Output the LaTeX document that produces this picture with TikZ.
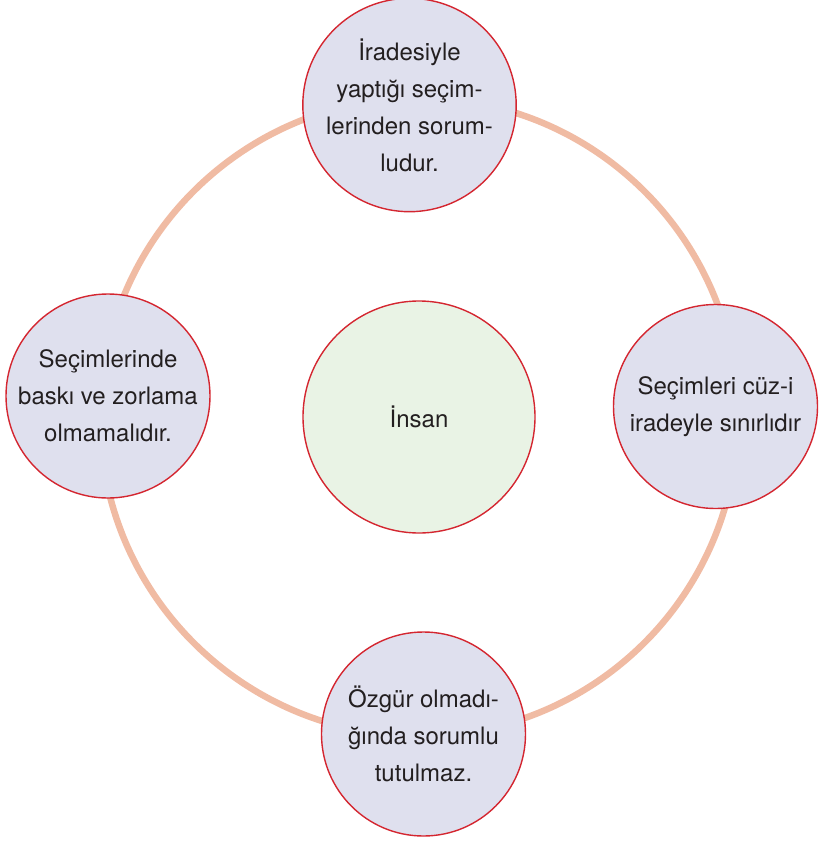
\documentclass[tikz,border=0pt]{standalone}
\usepackage{fontspec}
\setmainfont{TeX Gyre Heros}
\usepackage{tikz}

\definecolor{ringsalmon}{HTML}{F0BBA3}
\definecolor{bubbleblue}{HTML}{DFE0EE}
\definecolor{hubgreen}{HTML}{E9F3E5}
\definecolor{bubblered}{HTML}{D42630}
\definecolor{inkgray}{HTML}{231F20}

\begin{document}
\begin{tikzpicture}[x=1pt, y=-1pt,
  bubble/.style={circle, draw=bubblered, line width=1.4pt, fill=bubbleblue, text=inkgray,
    minimum size=204pt, inner sep=0pt, align=center, font=\fontsize{24}{37}\selectfont},
  hubbubble/.style={bubble, fill=hubgreen, minimum size=232pt},
  ring/.style={draw=ringsalmon, line width=6.5pt}]
\useasboundingbox (0, 0) rectangle (819, 841);

\coordinate (hub) at (419, 417);
\draw[ring] (hub) circle[radius=319pt];

\node[hubbubble] (insan) at (hub) {İnsan};
\node[bubble] (irade) at (409.5, 105) {İradesiyle\\yaptığı seçim-\\lerinden sorum-\\ludur.};
\node[bubble] (baski) at (108, 396) {Seçimlerinde\\baskı ve zorlama\\olmamalıdır.};
\node[bubble] (cuzi) at (715.5, 406.5) {Seçimleri cüz-i\\iradeyle sınırlıdır};
\node[bubble] (ozgur) at (423.5, 734) {Özgür olmadı-\\ğında sorumlu\\tutulmaz.};

\end{tikzpicture}
\end{document}
